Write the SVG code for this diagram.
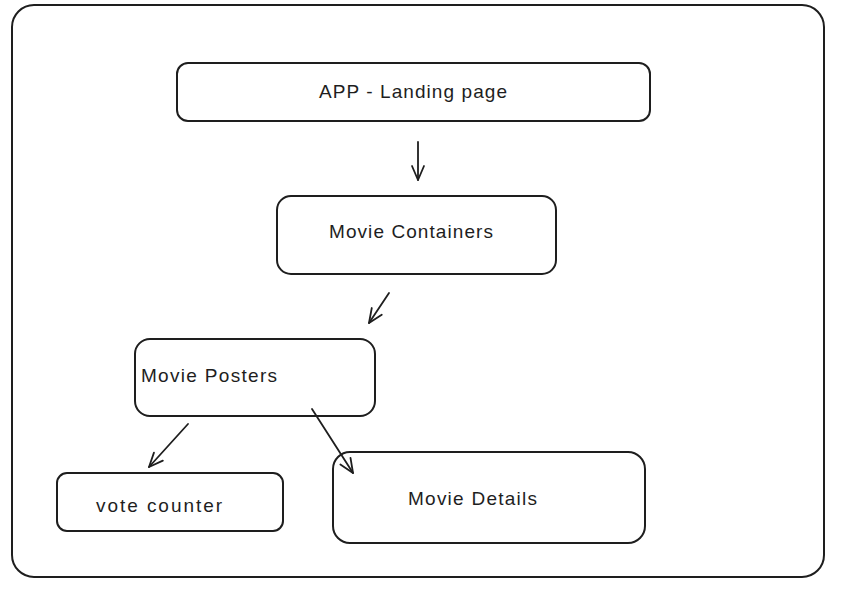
<svg xmlns="http://www.w3.org/2000/svg" width="841" height="589" viewBox="0 0 841 589">
<defs>
<style>
.box{fill:none;stroke:#1e1e1e;stroke-width:2;stroke-linejoin:round}
.frame{fill:#ffffff;stroke:#1e1e1e;stroke-width:2}
.lbl{font-family:"Liberation Sans",Arial,sans-serif;font-size:19px;fill:#1e1e1e}
.conn{fill:none;stroke:#1e1e1e;stroke-width:1.8;stroke-linecap:round}
</style>
<marker id="ah" viewBox="-16 -8 18 16" refX="0" refY="0" markerWidth="18" markerHeight="16" markerUnits="userSpaceOnUse" orient="auto">
<path d="M -14 -6 L 0 0 L -14 6" fill="none" stroke="#1e1e1e" stroke-width="1.8" stroke-linecap="round" stroke-linejoin="round"/>
</marker>
</defs>
<rect width="841" height="589" fill="#ffffff"/>
<rect id="frame" class="frame" x="12" y="5" width="812" height="572" rx="22"/>
<g id="node-app">
<rect class="box" x="177" y="63" width="473" height="58" rx="11"/>
<text class="lbl" x="319" y="98" textLength="188">APP - Landing page</text>
</g>
<g id="node-containers">
<rect class="box" x="277" y="196" width="279" height="78" rx="14"/>
<text class="lbl" x="329" y="238" textLength="164">Movie Containers</text>
</g>
<g id="node-posters">
<rect class="box" x="135" y="339" width="240" height="77" rx="15"/>
<text class="lbl" x="141" y="382" textLength="136">Movie Posters</text>
</g>
<g id="node-vote">
<rect class="box" x="57" y="473" width="226" height="58" rx="10"/>
<text class="lbl" x="96" y="512" textLength="126">vote counter</text>
</g>
<g id="node-details">
<rect class="box" x="333" y="452" width="312" height="91" rx="17"/>
<text class="lbl" x="408" y="505" textLength="129">Movie Details</text>
</g>
<g id="connectors">
<path class="conn" d="M 418 142 L 418 180" marker-end="url(#ah)"/>
<path class="conn" d="M 389 293 L 369 323" marker-end="url(#ah)"/>
<path class="conn" d="M 188 424 L 149 467" marker-end="url(#ah)"/>
<path class="conn" d="M 312 409 L 353 473" marker-end="url(#ah)"/>
</g>
</svg>
